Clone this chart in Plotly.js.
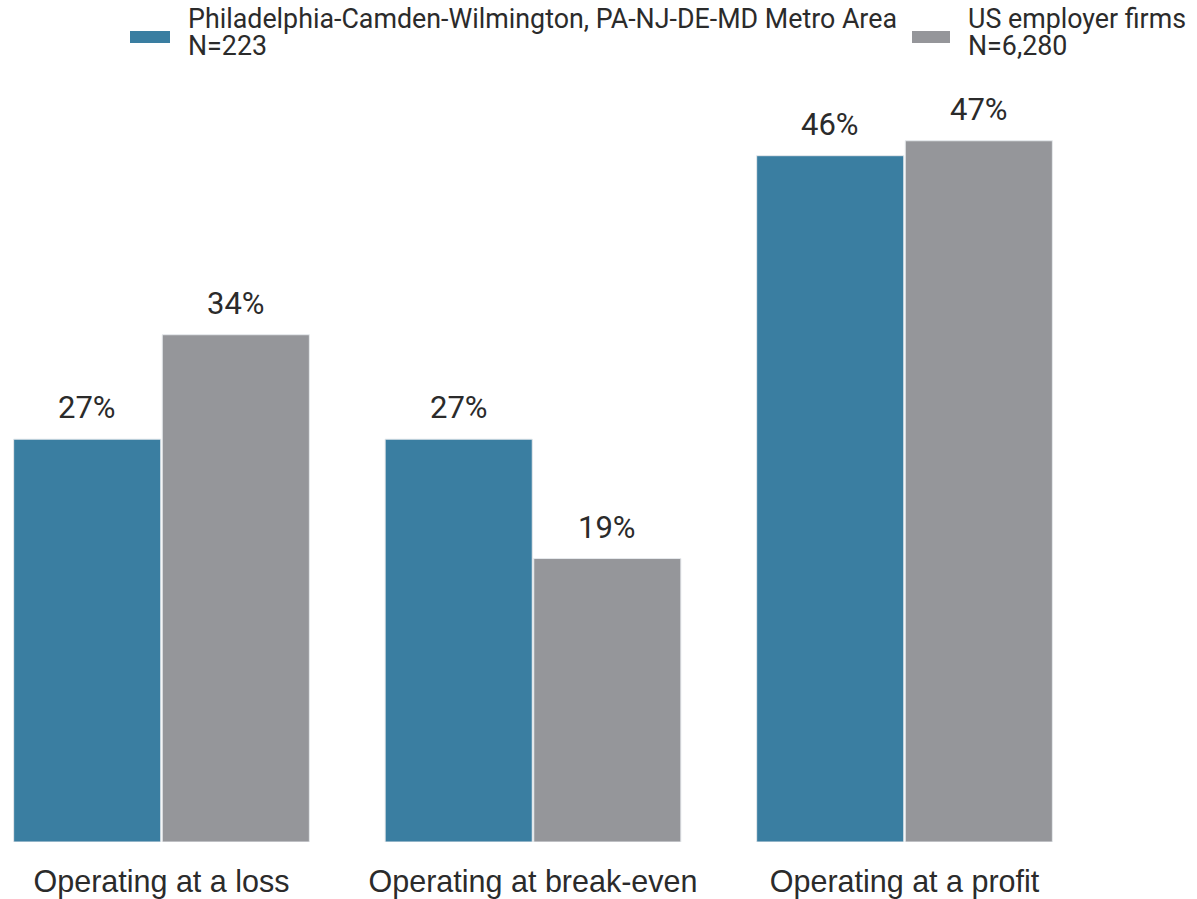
<!DOCTYPE html>
<html>
<head>
<meta charset="utf-8">
<script src="https://cdn.plot.ly/plotly-3.0.1.min.js"></script>
<style>html,body{margin:0;padding:0;background:#fff;}#chart{width:1197px;height:899px;}</style>
</head>
<body>
<div id="chart"></div>
<script>
const categories = ["Operating at a loss", "Operating at break-even", "Operating at a profit"];
const seriesNames = ["Philadelphia-Camden-Wilmington, PA-NJ-DE-MD Metro Area", "US employer firms"];
const seriesN = ["N=223", "N=6,280"];
const metroValues = [27, 27, 46];
const usValues = [34, 19, 47];
const colors = ["#3a7ea1", "#95969a"];

const W = 1197, H = 899, T = 96, B = 57;
const plotH = H - T - B;
const bargap = 0.2;
const groupgap = 0.01;
const half = (1 - bargap) / 4;
const pyToPaper = py => (H - B - py) / plotH;

const traces = [metroValues, usValues].map((vals, k) => ({
  type: 'bar',
  x: categories,
  y: vals,
  name: seriesNames[k],
  marker: {color: colors[k], line: {color: '#e6e9ec', width: 1}},
  showlegend: false,
  hoverinfo: 'skip'
}));

const annotations = [];
[metroValues, usValues].forEach((vals, k) => {
  vals.forEach((v, i) => {
    annotations.push({
      xref: 'x', yref: 'y', x: i + (k === 0 ? -half : half), y: v,
      text: v + '%', showarrow: false, yanchor: 'bottom', xanchor: 'center',
      yshift: 11,
      font: {family: 'Roboto', size: 31, color: '#2b2b2b'}
    });
  });
});

const legendPos = [{sw: [130, 170], tx: 186}, {sw: [912, 950], tx: 966}];
const shapes = [];
legendPos.forEach((p, k) => {
  shapes.push({
    type: 'rect', xref: 'paper', yref: 'paper',
    x0: p.sw[0] / W, x1: p.sw[1] / W, y0: pyToPaper(43), y1: pyToPaper(31),
    fillcolor: colors[k], line: {width: 0}
  });
  [[seriesNames[k], 19], [seriesN[k], 46]].forEach(([txt, cy]) => {
    annotations.push({
      xref: 'paper', yref: 'paper', x: p.tx / W, y: pyToPaper(cy),
      xanchor: 'left', yanchor: 'middle', align: 'left', showarrow: false,
      text: txt,
      font: {family: 'Roboto', size: 26.8, color: '#2b2b2b'}
    });
  });
});

const layout = {
  width: W, height: H,
  margin: {l: 0, r: 0, t: T, b: B, pad: 0},
  paper_bgcolor: '#ffffff', plot_bgcolor: '#ffffff',
  barmode: 'group', bargap: bargap, bargroupgap: groupgap,
  showlegend: false,
  xaxis: {
    type: 'category',
    range: [-0.4347, 2.7873],
    showgrid: false, zeroline: false, showline: false, ticks: '',
    ticklabelstandoff: 18,
    tickfont: {family: 'Liberation Sans, Arial', size: 30.5, color: '#2b2b2b'},
    automargin: false
  },
  yaxis: {
    range: [0, 50], visible: false, showgrid: false, zeroline: false, fixedrange: true
  },
  annotations: annotations,
  shapes: shapes
};

Plotly.newPlot('chart', traces, layout, {displayModeBar: false, staticPlot: true});
</script>
</body>
</html>
